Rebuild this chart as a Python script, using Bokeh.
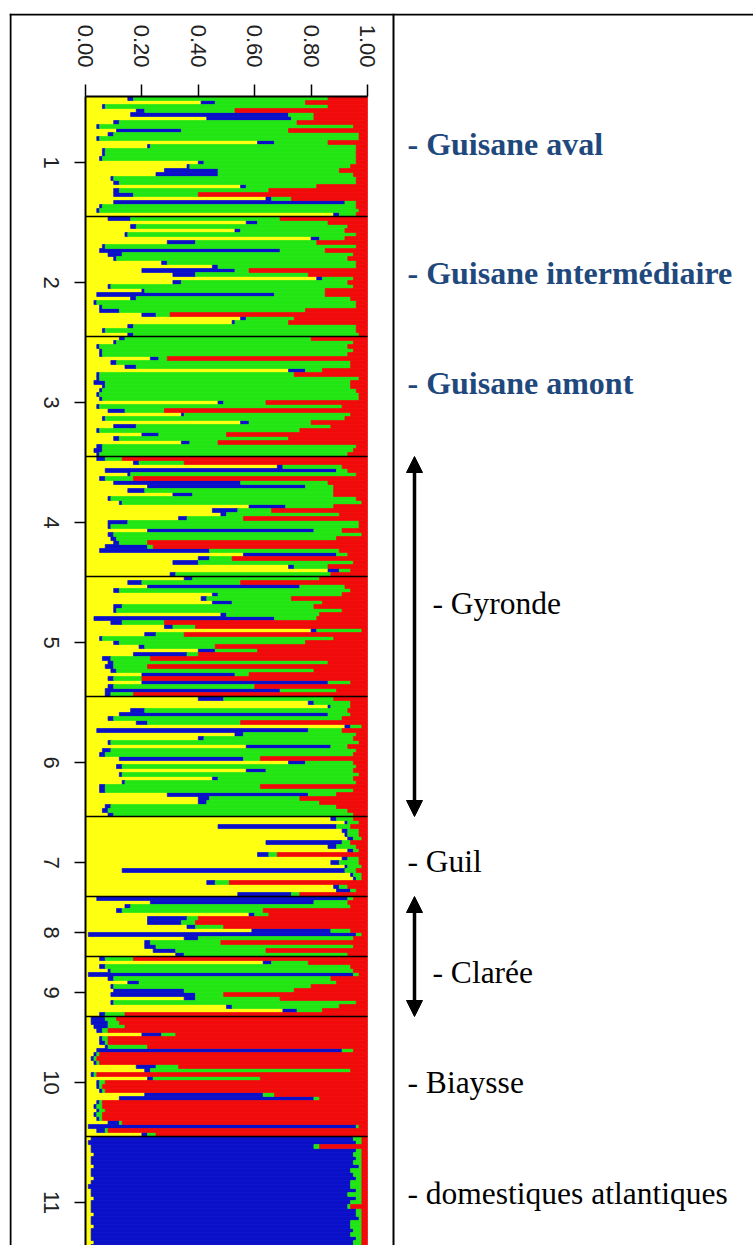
import math
from bokeh.plotting import figure
from bokeh.models import (ColumnDataSource, Range1d, LinearAxis, FixedTicker,
                          NumeralTickFormatter, Span, Arrow, NormalHead)
from bokeh.core.properties import value
from bokeh.embed import file_html
from bokeh.resources import INLINE

# ---------------- data ----------------
group_labels = ["1", "2", "3", "4", "5", "6", "7", "8", "9", "10", "11"]
group_sizes = [30, 30, 30, 30, 30, 30, 20, 15, 15, 30, 30]

cluster_names = ["yellow", "blue", "green", "red"]
cluster_colors = ["#FFFF10", "#0A10C8", "#22E614", "#F00A0A"]

# membership coefficients (Q) per individual, groups in order
yellow = [
    # 1
    .15, .41, .06, .18, .16, .43, .10, .04, .11, .08, .04, .61, .22, .06, .06,
    .05, .40, .36, .28, .25, .09, .10, .55, .10, .10, .64, .10, .05, .04, .88,
    # 2
    .08, .57, .16, .53, .14, .80, .29, .06, .05, .08, .10, .27, .45, .20, .31,
    .82, .31, .08, .20, .04, .16, .03, .05, .05, .20, .55, .52, .15, .06, .15,
    # 3
    .12, .10, .04, .05, .05, .23, .09, .14, .72, .04, .04, .03, .06, .05, .04,
    .05, .47, .04, .08, .34, .06, .55, .10, .04, .20, .10, .34, .04, .03, .04,
    # 4
    .04, .17, .68, .07, .15, .05, .10, .22, .15, .31, .08, .12, .58, .45, .48,
    .33, .08, .08, .22, .08, .09, .10, .07, .05, .56, .40, .31, .72, .86, .30,
    # 5
    .35, .15, .22, .10, .45, .41, .45, .10, .10, .48, .03, .09, .28, .80, .21,
    .05, .10, .19, .40, .17, .06, .08, .07, .09, .20, .08, .20, .08, .07, .07,
    # 6
    .40, .79, .86, .16, .12, .08, .18, .92, .04, .53, .40, .08, .57, .06, .05,
    .12, .72, .11, .57, .12, .45, .13, .05, .05, .29, .40, .40, .07, .06, .08,
    # 7
    .87, .92, .47, .91, .92, .93, .64, .86, .93, .61, .91, .87, .92, .13, .94,
    .95, .43, .88, .89, .54,
    # 8
    .04, .23, .14, .11, .58, .22, .22, .36, .59, .01, .35, .21, .21, .24, .32,
    # 9
    .05, .63, .05, .08, .01, .08, .15, .09, .10, .09, .35, .09, .50, .70, .05,
    # 10
    .02, .02, .03, .04, .20, .05, .05, .07, .04, .03, .02, .03, .18, .21, .02,
    .22, .04, .04, .05, .21, .12, .04, .03, .04, .03, .04, .08, .01, .04, .20,
    # 11
    .02, .01, .02, .02, .03, .02, .02, .03, .02, .02, .03, .02, .01, .02, .02,
    .03, .02, .02, .02, .03, .02, .02, .03, .02, .02, .02, .03, .02, .02, .02,
]
blue = [
    # 1
    .02, .05, .01, .03, .56, .30, .02, .01, .23, .02, .01, .06, .01, .01, .01,
    .01, .02, .01, .19, .22, .01, .02, .02, .02, .07, .02, .82, .01, .01, .02,
    # 2
    .08, .04, .02, .02, .01, .03, .10, .01, .64, .05, .01, .02, .02, .33, .08,
    .02, .03, .01, .01, .63, .02, .01, .01, .07, .05, .02, .01, .02, .01, .02,
    # 3
    .02, .01, .01, .01, .01, .03, .02, .04, .06, .01, .01, .04, .01, .01, .01,
    .01, .02, .01, .06, .01, .01, .03, .08, .01, .06, .02, .03, .02, .03, .01,
    # 4
    .03, .02, .02, .82, .01, .02, .45, .56, .06, .07, .01, .01, .13, .09, .02,
    .03, .07, .01, .59, .02, .02, .02, .15, .39, .33, .04, .09, .02, .04, .02,
    # 5
    .03, .05, .54, .02, .02, .02, .07, .03, .01, .02, .64, .04, .03, .02, .04,
    .01, .02, .02, .06, .19, .03, .02, .03, .02, .33, .02, .66, .02, .62, .02,
    # 6
    .09, .02, .01, .05, .74, .02, .04, .02, .75, .03, .02, .01, .30, .03, .02,
    .44, .06, .02, .07, .01, .02, .01, .02, .02, .50, .04, .03, .02, .02, .02,
    # 7
    .02, .01, .42, .02, .01, .02, .27, .03, .02, .04, .02, .03, .01, .79, .01,
    .01, .03, .02, .05, .19,
    # 8
    .89, .58, .02, .02, .02, .14, .12, .03, .28, .95, .05, .02, .04, .08, .03,
    # 9
    .02, .03, .02, .01, .94, .02, .04, .01, .25, .30, .04, .01, .02, .05, .02,
    # 10
    .05, .06, .05, .02, .07, .01, .02, .01, .87, .01, .01, .01, .07, .02, .01,
    .02, .01, .01, .01, .42, .69, .01, .01, .01, .01, .01, .04, .95, .03, .02,
    # 11
    .93, .95, .79, .94, .92, .94, .93, .94, .92, .93, .93, .92, .93, .94, .91,
    .93, .92, .91, .94, .93, .95, .92, .91, .93, .92, .94, .92, .93, .94, .93,
]
green = [
    # 1
    .69, .32, .79, .32, .09, .08, .63, .90, .38, .87, .92, .19, .73, .89, .89,
    .90, .54, .57, .43, .48, .86, .84, .25, .53, .23, .07, .04, .90, .92, .06,
    # 2
    .53, .25, .75, .37, .81, .09, .43, .89, .16, .82, .82, .67, .49, .05, .40,
    .11, .59, .86, .64, .18, .76, .92, .90, .66, .05, .17, .19, .79, .89, .80,
    # 3
    .66, .84, .88, .89, .87, .03, .83, .76, .06, .69, .92, .87, .87, .90, .92,
    .91, .15, .86, .14, .59, .85, .22, .69, .71, .24, .60, .10, .90, .89, .88,
    # 4
    .06, .16, .21, .04, .80, .10, .31, .10, .67, .50, .87, .85, .17, .12, .40,
    .20, .82, .88, .10, .88, .78, .10, .02, .46, .04, .08, .55, .12, .04, .55,
    # 5
    .45, .35, .16, .82, .44, .30, .32, .68, .80, .33, .15, .15, .08, .16, .10,
    .82, .66, .25, .15, .04, .14, .76, .12, .70, .05, .10, .08, .50, .20, .08,
    # 6
    .39, .13, .07, .72, .08, .81, .33, .04, .12, .40, .53, .88, .06, .87, .88,
    .06, .17, .83, .31, .84, .48, .82, .55, .88, .10, .32, .40, .80, .85, .85,
    # 7
    .06, .04, .05, .04, .04, .03, .03, .07, .02, .03, .04, .07, .05, .04, .03,
    .02, .05, .03, .02, .03,
    # 8
    .02, .12, .78, .50, .05, .04, .05, .10, .07, .02, .55, .25, .70, .32, .58,
    # 9
    .10, .13, .87, .86, .02, .77, .70, .70, .39, .10, .30, .86, .38, .09, .07,
    # 10
    .04, .04, .06, .02, .05, .02, .01, .14, .04, .01, .01, .01, .08, .71, .01,
    .38, .02, .01, .01, .04, .02, .01, .02, .02, .02, .01, .01, .01, .01, .03,
    # 11
    .03, .02, .02, .02, .03, .02, .03, .01, .04, .03, .02, .04, .04, .02, .05,
    .02, .04, .01, .02, .02, .01, .04, .04, .03, .04, .02, .03, .03, .02, .03,
]
red = [
    # 1
    .14, .22, .14, .47, .19, .19, .25, .05, .28, .03, .03, .14, .04, .04, .04,
    .04, .04, .06, .10, .05, .04, .04, .18, .35, .60, .27, .04, .04, .03, .04,
    # 2
    .31, .14, .07, .08, .04, .08, .18, .04, .15, .05, .07, .04, .04, .42, .21,
    .05, .07, .05, .15, .15, .06, .04, .04, .22, .70, .26, .28, .04, .04, .03,
    # 3
    .20, .05, .07, .05, .07, .71, .06, .06, .16, .26, .03, .06, .06, .04, .03,
    .03, .36, .09, .72, .06, .08, .20, .13, .24, .50, .28, .53, .04, .05, .07,
    # 4
    .87, .65, .09, .07, .04, .83, .14, .12, .12, .12, .04, .02, .12, .34, .10,
    .44, .03, .03, .09, .02, .11, .78, .76, .10, .07, .48, .05, .14, .06, .13,
    # 5
    .17, .45, .08, .06, .09, .27, .16, .19, .09, .17, .18, .72, .61, .02, .65,
    .12, .22, .54, .39, .60, .77, .14, .78, .19, .42, .80, .06, .40, .11, .83,
    # 6
    .12, .06, .06, .07, .06, .09, .45, .02, .09, .04, .05, .03, .07, .04, .05,
    .38, .05, .04, .05, .03, .05, .04, .38, .05, .11, .24, .17, .11, .07, .05,
    # 7
    .05, .03, .06, .03, .03, .02, .06, .04, .03, .32, .03, .03, .02, .04, .02,
    .02, .49, .07, .04, .24,
    # 8
    .05, .07, .06, .37, .35, .60, .61, .51, .06, .02, .05, .52, .05, .36, .07,
    # 9
    .83, .21, .06, .05, .03, .13, .11, .20, .26, .51, .31, .04, .10, .16, .86,
    # 10
    .89, .88, .86, .92, .68, .92, .92, .78, .05, .95, .96, .95, .67, .06, .96,
    .38, .93, .94, .93, .33, .17, .94, .94, .93, .94, .94, .87, .03, .92, .75,
    # 11
    .02, .02, .17, .02, .02, .02, .02, .02, .02, .02, .02, .02, .02, .02, .02,
    .02, .02, .06, .02, .02, .02, .02, .02, .02, .02, .02, .02, .02, .02, .02,
]

x_ticks = [0.0, 0.2, 0.4, 0.6, 0.8, 1.0]

population_names = ["- Guisane aval", "- Guisane intermédiaire", "- Guisane amont",
                     "- Gyronde", "- Guil", "- Clarée", "- Biaysse",
                     "- domestiques atlantiques"]
population_bold = [True, True, True, False, False, False, False, False]
population_indent = [False, False, False, True, False, True, False, False]
# groups covered by the two double arrows (1-based group numbers)
arrow_groups = [(4, 6), (8, 9)]

# ---------------- layout constants (page pixels of the reference) ----------------
FIG_W, FIG_H = 753, 1245
MB_LEFT, MB_TOP = 9, 13
PX_X0, PX_X1 = 85, 367        # where proportion 0 and 1 sit
PX_Y0, ROW_PX = 96, 4         # top of the first individual, row height
TICK_SHIFT = 1.5              # STRUCTURE puts group labels slightly below centres
LABEL_PY = [143, 272.5, 382.5, 603, 861, 972, 1082, 1193]
GROUP_LABEL_PX = 51


def xd(px):
    return (px - PX_X0) / (PX_X1 - PX_X0)


def yd(py):
    return (py - PX_Y0) / ROW_PX


n = len(yellow)
rows = [i + 0.5 for i in range(n)]
totals = [yellow[i] + blue[i] + green[i] + red[i] for i in range(n)]
src = ColumnDataSource(dict(
    row=rows,
    yellow=[yellow[i] / totals[i] for i in range(n)],
    blue=[blue[i] / totals[i] for i in range(n)],
    green=[green[i] / totals[i] for i in range(n)],
    red=[red[i] / totals[i] for i in range(n)],
))

bounds = [0]
for s in group_sizes:
    bounds.append(bounds[-1] + s)
centers = [(bounds[i] + bounds[i + 1]) / 2 + TICK_SHIFT for i in range(len(group_sizes))]

p = figure(width=FIG_W, height=FIG_H, output_backend="svg", toolbar_location=None,
           x_range=Range1d(xd(MB_LEFT), xd(FIG_W)),
           y_range=Range1d(yd(FIG_H), yd(MB_TOP)),
           x_axis_location=None, y_axis_location=None,
           min_border_left=MB_LEFT, min_border_right=0,
           min_border_top=MB_TOP, min_border_bottom=0)
p.outline_line_color = None
p.grid.visible = False
p.background_fill_color = "white"
p.border_fill_color = "white"

# stacked membership bars
p.hbar_stack(cluster_names, y="row", height=1.0, source=src,
             fill_color=cluster_colors, line_color=cluster_colors, line_width=0.7)

# group separators
sep = [b for b in bounds[1:-1]]
p.segment(x0=[0] * len(sep), x1=[1] * len(sep), y0=sep, y1=sep,
          line_color="black", line_width=1.6)

# axes of the structure plot
xaxis = LinearAxis(fixed_location=0, bounds=(0, 1),
                   ticker=FixedTicker(ticks=x_ticks),
                   formatter=NumeralTickFormatter(format="0.00"))
xaxis.major_label_orientation = -math.pi / 2
xaxis.major_tick_out = 12
xaxis.major_tick_in = 0
xaxis.minor_tick_line_color = None
xaxis.axis_line_width = 2
xaxis.major_tick_line_width = 1.5
xaxis.major_label_standoff = 17
xaxis.major_label_text_font = "Liberation Sans"
xaxis.major_label_text_font_size = "22px"
xaxis.major_label_text_color = "#222222"
p.add_layout(xaxis, "above")

yaxis = LinearAxis(fixed_location=0, bounds=(0, bounds[-1]),
                   ticker=FixedTicker(ticks=centers),
                   major_label_overrides={c: "" for c in centers})
yaxis.major_tick_out = 11
yaxis.major_tick_in = 0
yaxis.minor_tick_line_color = None
yaxis.axis_line_width = 2
yaxis.major_tick_line_width = 1.5
p.add_layout(yaxis, "left")

# group numbers, rotated like the STRUCTURE output
glab = ColumnDataSource(dict(x=[xd(GROUP_LABEL_PX)] * len(centers), y=centers, t=group_labels))
p.text(x="x", y="y", text="t", source=glab, angle=-math.pi / 2,
       text_font=value("Liberation Sans"), text_font_size="22px", text_color="#222222",
       text_align="center", text_baseline="middle")

# table borders
for loc in (xd(10), xd(393)):
    p.add_layout(Span(location=loc, dimension="height", line_color="black", line_width=2))
p.add_layout(Span(location=yd(14), dimension="width", line_color="black", line_width=2))

# population labels
bx, by, bt, nx, ny, nt = [], [], [], [], [], []
for name, b, ind, py in zip(population_names, population_bold, population_indent, LABEL_PY):
    xx = xd(432) if ind else xd(407)
    if b:
        bx.append(xx); by.append(yd(py)); bt.append(name)
    else:
        nx.append(xx); ny.append(yd(py)); nt.append(name)
bold_src = ColumnDataSource(dict(x=bx, y=by, t=bt))
norm_src = ColumnDataSource(dict(x=nx, y=ny, t=nt))
p.text(x="x", y="y", text="t", source=bold_src, text_font=value("Liberation Serif"),
       text_font_style="bold", text_font_size="32px", text_color="#1F497D",
       text_baseline="middle", text_align="left")
p.text(x="x", y="y", text="t", source=norm_src, text_font=value("Liberation Serif"),
       text_font_size="31.5px", text_color="black",
       text_baseline="middle", text_align="left")

# double arrows
for g0, g1 in arrow_groups:
    p.add_layout(Arrow(start=NormalHead(size=16, fill_color="black", line_color="black"),
                       end=NormalHead(size=16, fill_color="black", line_color="black"),
                       x_start=xd(414), y_start=bounds[g0 - 1],
                       x_end=xd(414), y_end=bounds[g1],
                       line_color="black", line_width=3.5))

open("out.html", "w").write(file_html(p, INLINE))
